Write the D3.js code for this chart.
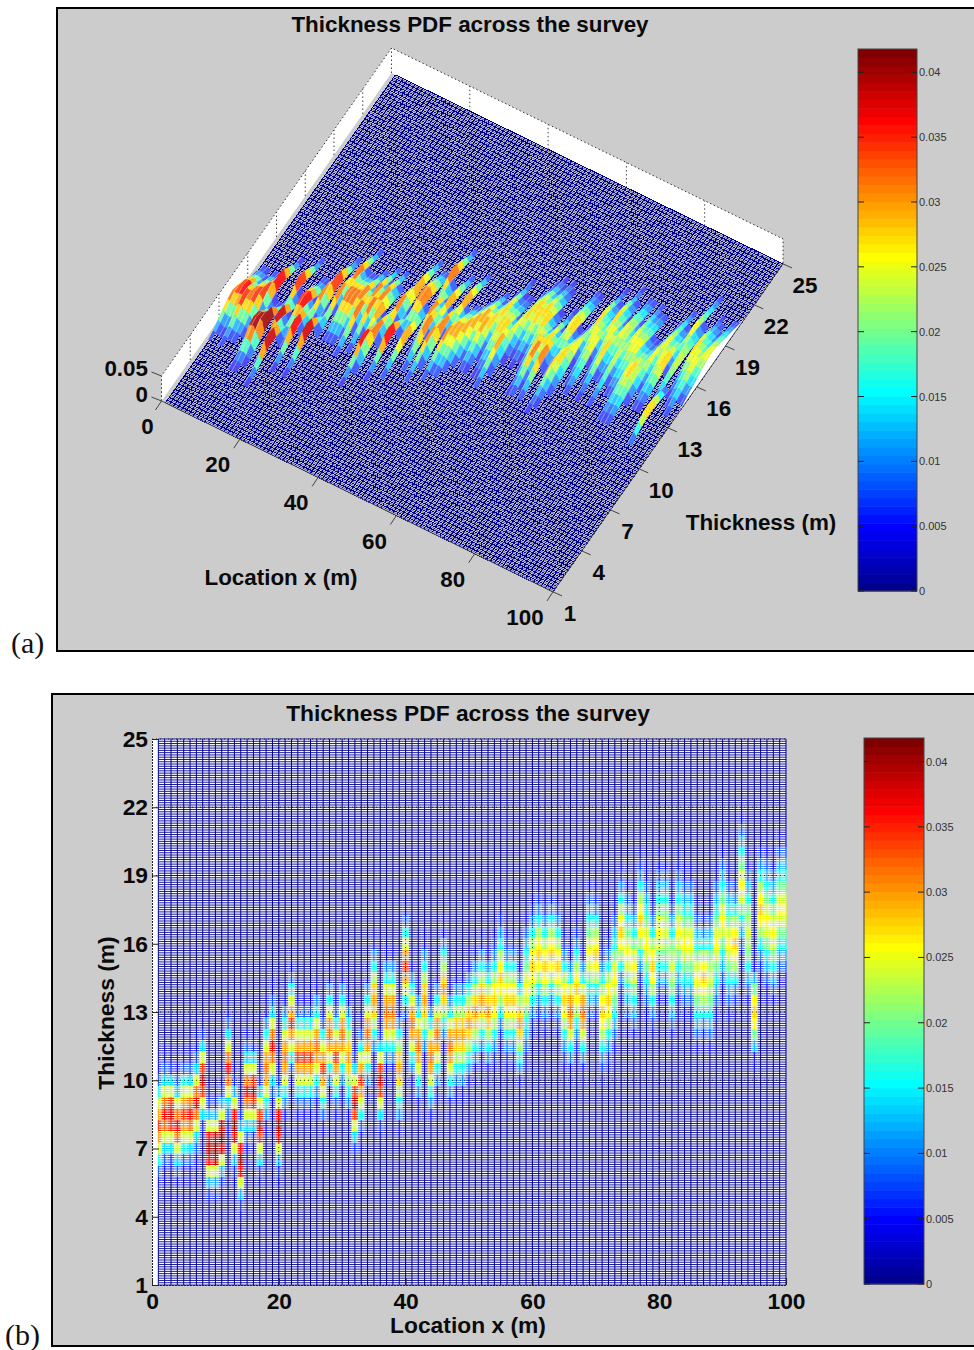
<!DOCTYPE html>
<html><head><meta charset="utf-8">
<style>html,body{margin:0;padding:0;background:#fff}svg{display:block}text{font-family:"Liberation Sans",Arial,sans-serif}</style>
<script src="https://cdn.jsdelivr.net/npm/d3@7"></script></head><body>
<svg id="c" width="974" height="1350"></svg>
<script>
// ---- values ----
const titleText = "Thickness PDF across the survey";
const xLabel = "Location x (m)";
const yLabel = "Thickness (m)";
const xTicks = [0,20,40,60,80,100];
const yTicks = [1,4,7,10,13,16,19,22,25];
const cbarTicks = [0,0.005,0.01,0.015,0.02,0.025,0.03,0.035,0.04];
const cbarMax = 0.0418;
const pdfUnit = 0.002;   // one base-36 digit of a profile = 0.002
// lowest thickness with a non-zero PDF, one per location x = 1..100
const colStart = [5,5.5,6,5,5.5,5.5,6,7.5,4.5,4.5,5,7.5,5.5,4,6.5,7,5.5,7.5,8.5,5.5,
 8,9.5,8,8,8,8.5,7.5,9,8,9,8,6.5,7,9,10.5,7.5,10,10,7.5,12,
 9.5,8.5,10.5,8,9,11,8.5,9,9,9.5,10,10.5,10,10.5,11.5,10.5,10.5,9.5,10.5,12,
 12.5,12,12.5,12,10.5,10,11,10,12,12.5,10,10.5,11,13.5,12,11.5,14,12.5,12,13,
 13,11.5,13,12.5,12.5,11,11.5,11,12.5,13.5,12.5,13,15,13,10.5,14.5,13.5,13,14,14];
// PDF up the column in 0.5 m steps from colStart, base-36 digits of pdfUnit
const colProfile = [
"1248cfhfc8421","1247cgigc7421","137chjhc731","1247cgigc7421","1248cfhfc8421","1247cgigc7421","1247cgigc7421","137chjhc731","136cikic631","136cjljc631",
"136cjljc631","1247cgigc7421","136cikic631","136cikic631","1247cgigc7421","137chjhc731","137chjhc731","1258cfgfc8521","1247cgigc7421","136cikic631",
"1258cfgfc8521","1248cfhfc8421","1248cfhfc8421","1248cfhfc8421","1248cfhfc8421","1258cfgfc8521","1248cfhfc8421","1258cfgfc8521","1248cfhfc8421","1258cfgfc8521",
"1258befeb8521","137chjhc731","1248cfhfc8421","1258cfgfc8521","1258befeb8521","137chjhc731","1258cfgfc8521","1258cfgfc8521","1258befeb8521","1248cfhfc8421",
"1258cfgfc8521","1258cfgfc8521","1258befeb8521","1258cfgfc8521","1258cfgfc8521","1258befeb8521","1258cfgfc8521","1258befeb8521","1258befeb8521","1258befeb8521",
"1258befeb8521","1258befeb8521","1258befeb8521","1358bdedb8531","1358bdedb8531","1358bdedb8531","1358bdedb8531","1258befeb8521","12468acdca86421","1358bdedb8531",
"1358bdedb8531","1358bdedb8531","1358bdedb8531","1358bdedb8531","1358bdedb8531","1258cfgfc8521","1358bdedb8531","1258cfgfc8521","12468acdca86421","1358bdedb8531",
"1358bdedb8531","1358bdedb8531","12468acdca86421","1358bdedb8531","12468acdca86421","12468acdca86421","1358bdedb8531","12468acdca86421","1358bdedb8531","12468acdca86421",
"12468abcba86421","12468abcba86421","12468acdca86421","12468acdca86421","12468acdca86421","12468acdca86421","1358bdedb8531","12468abcba86421","12468acdca86421","12468acdca86421",
"12468acdca86421","1358bdedb8531","12468acdca86421","12468abcba86421","126adeda621","1358bdedb8531","12468acdca86421","12468acdca86421","12468acdca86421","12468acdca86421"];

const svg = d3.select("#c");
const NAVY = "#00008f";
const FS = 22.4, FSB = 22.8;

function jet(i){ // MATLAB jet(64), i = 0..63
  const v = (i+1)/64*4;
  const f = c => Math.round(255*Math.max(0,Math.min(1,Math.min(v-c+1.5, c+1.5-v))));
  return d3.rgb(f(3),f(2),f(1)).formatHex();
}
const levelOf = d3.scaleQuantize().domain([0,cbarMax]).range(d3.range(64));
const pdfAt = (i,t) => { const ch = colProfile[i][Math.round((t-colStart[i])*2)]; return ch ? parseInt(ch,36)*pdfUnit : 0; };
const locations = d3.range(1,101);

function frame(x,y0,y1){
  svg.append("rect").attr("x",x).attr("y",y0).attr("width",974-x+10).attr("height",y1-y0)
    .attr("fill","#cccccc").attr("stroke","#000").attr("stroke-width",2);
}
function boldText(x,y,s,anchor,fs){
  return svg.append("text").attr("x",x).attr("y",y).attr("text-anchor",anchor||"middle")
    .attr("font-size",fs||FS).attr("font-weight","bold").attr("fill","#0a0a0a").text(s);
}
function colorbar(x0,x1,yTop,yBottom){
  const y = d3.scaleLinear().domain([0,cbarMax]).range([yBottom,yTop]);
  const g = svg.append("g");
  const lv = d3.range(64);
  g.selectAll("rect").data(lv).join("rect")
    .attr("x",x0).attr("width",x1-x0)
    .attr("y",d=>y((d+1)/64*cbarMax)).attr("height",d=>y(d/64*cbarMax)-y((d+1)/64*cbarMax)+0.5)
    .attr("fill",d=>jet(d));
  g.append("rect").attr("x",x0).attr("y",yTop).attr("width",x1-x0).attr("height",yBottom-yTop)
    .attr("fill","none").attr("stroke","#444").attr("stroke-width",1);
  const tk = g.selectAll("g.t").data(cbarTicks).join("g").attr("class","t");
  tk.append("line").attr("x1",x0).attr("x2",x0+6).attr("y1",d=>y(d)).attr("y2",d=>y(d)).attr("stroke","#222");
  tk.append("line").attr("x1",x1-6).attr("x2",x1).attr("y1",d=>y(d)).attr("y2",d=>y(d)).attr("stroke","#222");
  tk.append("text").attr("x",x1+2).attr("y",d=>y(d)+4).attr("font-size",11).attr("fill","#333").text(d=>d);
}

// ================= panel (a): 3-D mesh =================
frame(57,8,651);
boldText(470,32,titleText);
colorbar(858,917,49,591);
svg.append("text").attr("x",11).attr("y",653).attr("font-size",30).attr("fill","#111")
  .style("font-family","'Liberation Serif',serif").text("(a)");

const gx = {x:d3.scaleLinear().domain([0,100]).range([0,391.5]), y:d3.scaleLinear().domain([0,100]).range([0,190.9])};
const gt = {x:d3.scaleLinear().domain([1,25]).range([0,230]), y:d3.scaleLinear().domain([1,25]).range([0,-328])};
const gz = d3.scaleLinear().domain([0,0.05]).range([0,-25]);
const origin = [161.5,401];
const proj = (x,t,v=0)=>[origin[0]+gx.x(x)+gt.x(t), origin[1]+gx.y(x)+gt.y(t)+gz(v)];
const poly = pts => "M"+pts.map(p=>p[0].toFixed(2)+","+p[1].toFixed(2)).join("L")+"Z";

// white back walls
const wallOuter = [proj(0,1),proj(0,1,0.05),proj(0,25,0.05),proj(100,25,0.05),proj(100,25),proj(0,25)];
svg.append("path").attr("d",poly(wallOuter)).attr("fill","#fff");
svg.append("path").attr("d","M"+[proj(0,1),proj(0,1,0.05),proj(0,25,0.05),proj(100,25,0.05),proj(100,25)].map(p=>p.join(",")).join("L"))
  .attr("fill","none").attr("stroke","#333").attr("stroke-dasharray","1.5 2.5");
const wallGrid = svg.append("g").attr("stroke","#444").attr("stroke-dasharray","1.5 2.5").attr("fill","none");
wallGrid.selectAll("path.wx").data(xTicks.slice(0,-1)).join("path").attr("class","wx")
  .attr("d",d=>"M"+proj(d,25)+"L"+proj(d,25,0.05));
wallGrid.selectAll("path.wt").data(yTicks.slice(0,-1)).join("path").attr("class","wt")
  .attr("d",d=>"M"+proj(0,d)+"L"+proj(0,d,0.05));

// flat mesh: crisp lines on the even rows, softer ones on the odd rows
const meshPath = (rows)=>{const ax=d3.path();
  rows.forEach(t=>{const a=proj(1,t),b=proj(100,t);ax.moveTo(a[0],a[1]);ax.lineTo(b[0],b[1]);});return ax;};
svg.append("path").attr("d",meshPath(d3.range(1.1,25,0.2)).toString()).attr("fill","none").attr("stroke",NAVY)
  .attr("stroke-width",1).attr("opacity",0.5);
const ax = meshPath(d3.range(1,25.01,0.2));
locations.forEach(x=>{const a=proj(x,1),b=proj(x,25);ax.moveTo(a[0],a[1]);ax.lineTo(b[0],b[1]);});
svg.append("path").attr("d",ax.toString()).attr("fill","none").attr("stroke",NAVY).attr("stroke-width",1)
  .attr("shape-rendering","crispEdges");

// raised part of the surface, painted back to front; each column owns the half-cells next to it
const cells=[];
d3.range(0,99).forEach(i=>{
  d3.range(1,25,0.5).forEach(t=>{
    const a=[pdfAt(i,t),pdfAt(i+1,t),pdfAt(i+1,t+.5),pdfAt(i,t+.5)];
    if(d3.max(a)>0){
      const m0=(a[0]+a[1])/2,m1=(a[2]+a[3])/2,x=i+1;
      const p0=proj(x+.5,t,m0),p1=proj(x+.5,t+.5,m1);
      cells.push({k:(x+.25)*1.909-t*13.67,lv:levelOf((a[0]+a[3])/2),
        p:[proj(x,t,a[0]),p0,p1,proj(x,t+.5,a[3])]});
      cells.push({k:(x+.75)*1.909-t*13.67,lv:levelOf((a[1]+a[2])/2),
        p:[p0,proj(x+1,t,a[1]),proj(x+1,t+.5,a[2]),p1],w:[p0,p1]});
    }
  });
});
const shown = cells.filter(c=>c.lv>=5).sort((a,b)=>a.k-b.k);
const whiteMix = d3.scaleLinear().domain([0,14,30]).range([0.34,0.24,0.12]).clamp(true);
const surf = svg.append("g").selectAll("g").data(shown).join("g");
surf.append("path").attr("d",c=>poly(c.p))
  .attr("fill",c=>d3.interpolateRgb(jet(c.lv),"#fff")(whiteMix(c.lv)))
  .attr("stroke",c=>d3.interpolateRgb(jet(c.lv),"#fff")(whiteMix(c.lv))).attr("stroke-width",0.5);
surf.filter(c=>c.w).append("path").attr("d",c=>"M"+c.w[0]+"L"+c.w[1])
  .attr("stroke","#fff").attr("stroke-width",0.7).attr("opacity",0.55);

// white gap under the raised edge at x = 100
const edgeT = d3.range(1,25.01,0.5);
svg.append("path").attr("fill","#fff")
  .attr("d",poly(edgeT.map(t=>proj(100,t)).concat(edgeT.slice().reverse().map(t=>proj(100,t,pdfAt(99,t))))));

// axes of panel (a)
const ticks3 = svg.append("g").attr("stroke","#444").attr("stroke-width",1);
ticks3.selectAll("line.x").data(xTicks).join("line").attr("class","x")
  .attr("x1",d=>proj(d,1)[0]).attr("y1",d=>proj(d,1)[1]).attr("x2",d=>proj(d,1)[0]-6).attr("y2",d=>proj(d,1)[1]+9);
ticks3.selectAll("line.t").data(yTicks).join("line").attr("class","t")
  .attr("x1",d=>proj(100,d)[0]).attr("y1",d=>proj(100,d)[1]).attr("x2",d=>proj(100,d)[0]+9).attr("y2",d=>proj(100,d)[1]+4);
ticks3.selectAll("line.z").data([0,0.05]).join("line").attr("class","z")
  .attr("x1",d=>proj(0,1,d)[0]).attr("y1",d=>proj(0,1,d)[1]).attr("x2",d=>proj(0,1,d)[0]-10).attr("y2",d=>proj(0,1,d)[1]-4);
svg.append("path").attr("d","M"+proj(0,1)+"L"+proj(100,1)+"L"+proj(100,25)).attr("fill","none").attr("stroke","#555");
xTicks.forEach(d=>{const p=proj(d,1);boldText(p[0]-(d==0?14:d==100?28:22),p[1]+33,d);});
yTicks.forEach(d=>{const p=proj(100,d);boldText(p[0]+(d<10?17:22),p[1]+29,d);});
boldText(148,376,"0.05","end");
boldText(148,402,"0","end");
boldText(281,585,xLabel);
boldText(761,530,yLabel);

// ================= panel (b): mesh seen from above =================
frame(52,694,1346);
boldText(468,721,titleText,"middle",FSB);
colorbar(864,924,738,1284);
svg.append("text").attr("x",5).attr("y",1345).attr("font-size",30).attr("fill","#111")
  .style("font-family","'Liberation Serif',serif").text("(b)");

const xB = d3.scaleLinear().domain([0,100]).range([152,786]);
const yB = d3.scaleLinear().domain([1,25]).range([1285,739]);
svg.append("rect").attr("x",152).attr("y",739).attr("width",634).attr("height",546).attr("fill","#fff");

const rows2d = d3.range(1,25.01,0.1);
const hPaths = d3.range(64).map(()=>d3.path()), vPaths = d3.range(64).map(()=>d3.path());
rows2d.forEach(t=>{
  let run=null,start=0;
  const y=yB(t);
  locations.forEach((x,i)=>{
    const lv=levelOf(pdfAt(i,t));
    if(lv!==run){
      if(run!==null){hPaths[run].moveTo(xB(start),y);hPaths[run].lineTo(xB(x-.5),y);}
      run=lv;start=i?x-.5:x;
    }
  });
  hPaths[run].moveTo(xB(start),y);hPaths[run].lineTo(xB(100),y);
});
locations.forEach((x,i)=>{
  const px=xB(x);
  let run=null,start=0;
  rows2d.forEach((t,k)=>{
    const lv=levelOf(pdfAt(i,t));
    if(lv!==run){
      if(run!==null){vPaths[run].moveTo(px,yB(start));vPaths[run].lineTo(px,yB(t-.05));}
      run=lv;start=k?t-.05:t;
    }
  });
  vPaths[run].moveTo(px,yB(start));vPaths[run].lineTo(px,yB(25));
});
const drawPaths=(paths,cls,w)=>svg.append("g").attr("class",cls).attr("fill","none")
  .selectAll("path").data(d3.range(64)).join("path").attr("d",d=>paths[d].toString()||null)
  .attr("stroke",d=>jet(d)).attr("stroke-width",w);
drawPaths(hPaths,"h",d=>d>=20?1.25:0.9);
drawPaths(vPaths,"v",()=>1);

// dotted grid
const grid=svg.append("g").attr("stroke","#111").attr("stroke-dasharray","1 3").attr("stroke-width",1).attr("opacity",.8);
grid.selectAll("line.x").data(xTicks.slice(1,-1)).join("line").attr("class","x")
  .attr("x1",d=>xB(d)).attr("x2",d=>xB(d)).attr("y1",739).attr("y2",1285);
grid.selectAll("line.y").data([10,13,19,22,25]).join("line").attr("class","y")
  .attr("y1",d=>yB(d)).attr("y2",d=>yB(d)).attr("x1",152).attr("x2",786);

const axL=svg.append("g").attr("transform","translate(152,0)")
  .call(d3.axisLeft(yB).tickValues(yTicks).tickSize(-7).tickPadding(4));
const axB=svg.append("g").attr("transform","translate(0,1285)")
  .call(d3.axisBottom(xB).tickValues(xTicks).tickSize(-7).tickPadding(8));
[axL,axB].forEach(a=>{
  a.selectAll("text").attr("font-size",FSB).attr("font-weight","bold").attr("fill","#0a0a0a")
    .style("font-family","'Liberation Sans',Arial,sans-serif");
  a.selectAll("line").attr("stroke","#222");
  a.select(".domain").attr("stroke","#222").attr("stroke-dasharray","2 1");
});
boldText(468,1333,xLabel,"middle",FSB);
boldText(0,0,yLabel,"middle",FSB).attr("transform","translate(114,1013) rotate(-90)");
</script></body></html>
